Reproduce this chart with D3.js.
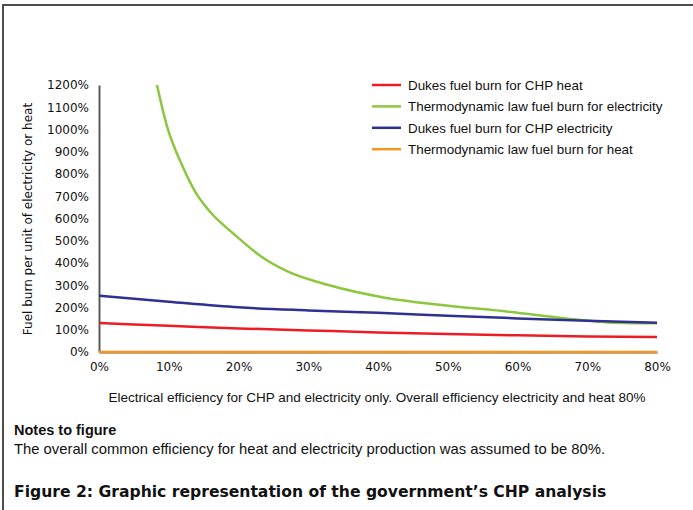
<!DOCTYPE html>
<html>
<head>
<meta charset="utf-8">
<script src="https://cdn.jsdelivr.net/npm/d3@7"></script>
<style>
  body { margin: 0; background: #fff; }
  svg { display: block; }
</style>
</head>
<body>
<script>
// values (percent)
var efficiency = [0, 10, 20, 30, 40, 50, 60, 70, 80];
var dukesHeat = [130, 118, 106, 97, 88, 81, 75, 70, 67];
var dukesElec = [253, 226, 201, 187, 176, 163, 151, 141, 132];
var thermoHeat = [0, 0, 0, 0, 0, 0, 0, 0, 0];

// thermodynamic electricity curve starts off the top of the chart
var thermoElecX = [8.2, 9.7, 11.9, 13.8, 15.7, 19.5, 23.3, 27.1, 32.9, 41, 49.1, 58.7, 68.2, 73, 80];
var thermoElecY = [1215, 1020, 840, 720, 638, 526, 428, 361, 301, 244, 211, 181, 147, 133, 129];

var yTicks = d3.range(0, 1300, 100);
var xTicks = d3.range(0, 90, 10);

var seriesNames = ["Dukes fuel burn for CHP heat", "Thermodynamic law fuel burn for electricity",
                   "Dukes fuel burn for CHP electricity", "Thermodynamic law fuel burn for heat"];
var seriesColors = ["#ed1c24", "#8dc63f", "#2e3192", "#f7941d"];

var width = 693, height = 510;
var svg = d3.select("body").append("svg").attr("width", width).attr("height", height);

// frame
svg.append("path")
      .attr("d", "M3,510 L3,5 L693,5")
      .attr("fill", "none")
      .attr("stroke", "#4d4d4d")
      .attr("stroke-width", 2);

var x = d3.scaleLinear().domain([0, 80]).range([99, 657]);
var y = d3.scaleLinear().domain([0, 1200]).range([352, 85]);

var tickFont = "'DejaVu Sans', Verdana, sans-serif";
var labelFont = "'Liberation Sans', Arial, sans-serif";

// y axis
var yAxis = svg.append("g")
      .attr("transform", "translate(99,0)")
      .call(d3.axisLeft(y).tickValues(yTicks).tickSize(0).tickSizeOuter(0).tickPadding(10)
            .tickFormat(function(d){ return d + "%"; }));
yAxis.select(".domain").attr("stroke", "#5a5a5a").attr("stroke-width", 2);
yAxis.selectAll("text").attr("font-family", tickFont).attr("font-size", 12).attr("fill", "#111");

// x axis
var xAxis = svg.append("g")
      .attr("transform", "translate(0,352)")
      .call(d3.axisBottom(x).tickValues(xTicks).tickSize(0).tickSizeOuter(0).tickPadding(10)
            .tickFormat(function(d){ return d + "%"; }));
xAxis.select(".domain").attr("stroke", "#5a5a5a").attr("stroke-width", 2);
xAxis.selectAll("text").attr("font-family", tickFont).attr("font-size", 12).attr("fill", "#111");

// axis titles
svg.append("text")
      .text("Fuel burn per unit of electricity or heat")
      .attr("transform", "translate(32,219) rotate(-90)")
      .attr("text-anchor", "middle")
      .attr("font-family", tickFont)
      .attr("font-size", 12)
      .attr("fill", "#111");

svg.append("text")
      .text("Electrical efficiency for CHP and electricity only. Overall efficiency electricity and heat 80%")
      .attr("x", 377)
      .attr("y", 402)
      .attr("text-anchor", "middle")
      .attr("font-family", labelFont)
      .attr("font-size", 13.5)
      .attr("fill", "#111");

// clip so the green curve stops at the top of the plot
svg.append("clipPath").attr("id", "plot")
      .append("rect").attr("x", 99).attr("y", 85).attr("width", 570).attr("height", 270);

var line = d3.line()
      .x(function(d){ return x(d[0]); })
      .y(function(d){ return y(d[1]); })
      .curve(d3.curveMonotoneX);

var seriesData = [
      efficiency.map(function(e, i){ return [e, dukesHeat[i]]; }),
      thermoElecX.map(function(e, i){ return [e, thermoElecY[i]]; }),
      efficiency.map(function(e, i){ return [e, dukesElec[i]]; }),
      efficiency.map(function(e, i){ return [e, thermoHeat[i]]; })
];

svg.append("g").attr("clip-path", "url(#plot)")
      .selectAll("path")
      .data(seriesData)
      .enter().append("path")
      .attr("d", line)
      .attr("fill", "none")
      .attr("stroke", function(d, i){ return seriesColors[i]; })
      .attr("stroke-width", 2.5);

// legend
var legend = svg.append("g").selectAll("g")
      .data(seriesNames)
      .enter().append("g")
      .attr("transform", function(d, i){ return "translate(372," + (85 + i * 21.4) + ")"; });

legend.append("line")
      .attr("x1", 0).attr("x2", 29)
      .attr("stroke", function(d, i){ return seriesColors[i]; })
      .attr("stroke-width", 2.5);

legend.append("text")
      .text(function(d){ return d; })
      .attr("x", 36)
      .attr("dy", "0.35em")
      .attr("font-family", labelFont)
      .attr("font-size", 13.4)
      .attr("fill", "#111");

// notes and caption
svg.append("text")
      .text("Notes to figure")
      .attr("x", 14).attr("y", 435)
      .attr("font-family", labelFont)
      .attr("font-weight", "bold")
      .attr("font-size", 14.5)
      .attr("fill", "#111");

svg.append("text")
      .text("The overall common efficiency for heat and electricity production was assumed to be 80%.")
      .attr("x", 14).attr("y", 454)
      .attr("font-family", labelFont)
      .attr("font-size", 14.8)
      .attr("fill", "#111");

svg.append("text")
      .text("Figure 2: Graphic representation of the government\u2019s CHP analysis")
      .attr("x", 14).attr("y", 497)
      .attr("font-family", "'DejaVu Sans', sans-serif")
      .attr("font-weight", "bold")
      .attr("font-size", 15.6)
      .attr("fill", "#111");
</script>
</body>
</html>
